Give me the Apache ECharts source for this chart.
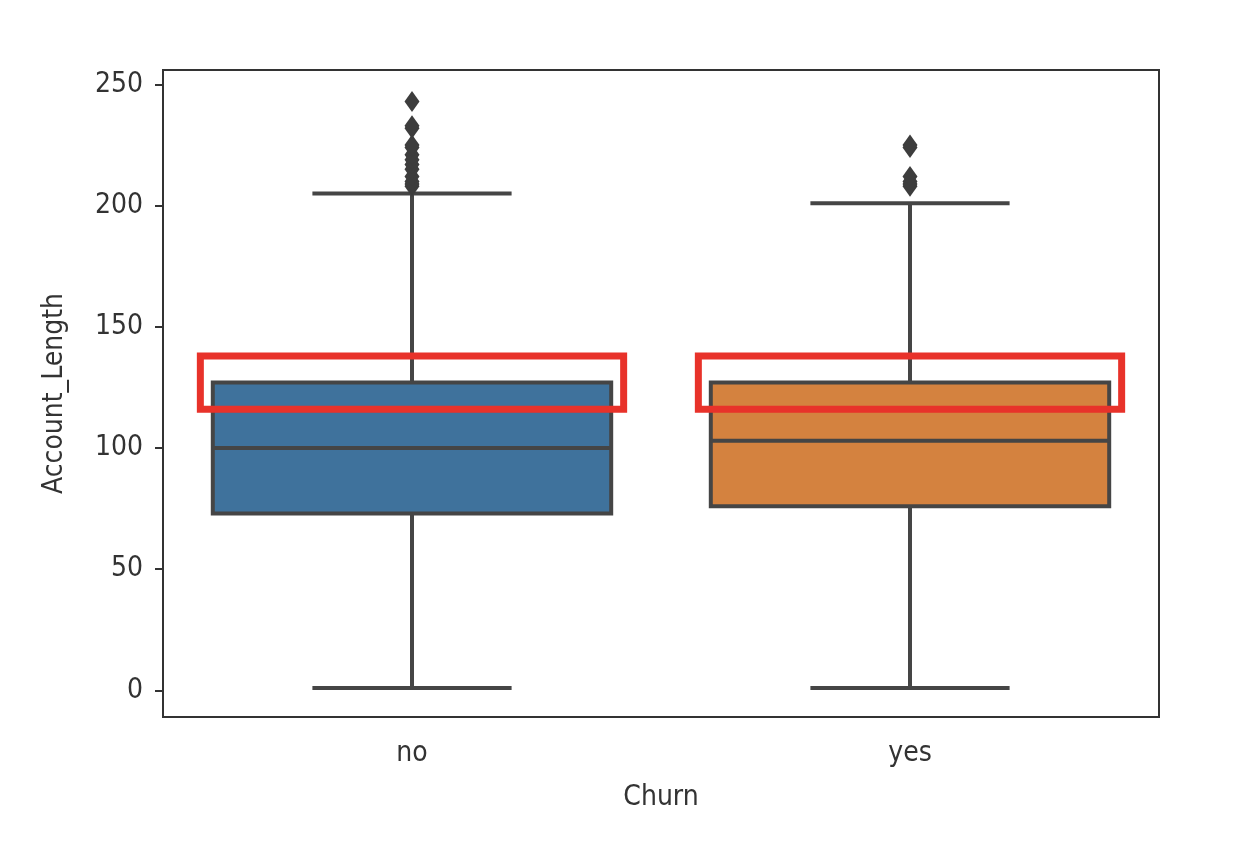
<!DOCTYPE html>
<html>
<head>
<meta charset="utf-8">
<script src="https://cdn.jsdelivr.net/npm/echarts@6/dist/echarts.min.js"></script>
<style>
    html, body { margin: 0; padding: 0; background: #fff; }
    #chart_box { width: 1254px; height: 864px; }
</style>
</head>
<body>
<div id="chart_box"></div>
<script>
// 数据
var categories = ['no', 'yes'];
var lowerWhisker = [1, 1];
var q1 = [73, 76];
var median = [100, 103];
var q3 = [127, 127];
var upperWhisker = [205, 201];
var outliersNo = [208, 209, 210, 212, 215, 217, 219, 221, 224, 225, 232, 233, 243];
var outliersYes = [208, 209, 210, 212, 224, 225];
var yTicks = [0, 50, 100, 150, 200, 250];
// 红框标注的范围 (Q3 附近)
var highlightLow = [116, 116];
var highlightHigh = [138, 138];

(function() {
    var boxColors = ['#3f729c', '#d4823f'];
    var lineColor = '#454545';
    var font = 'DejaVu Sans Condensed';

    var boxData = [];
    var markData = [];
    var outlierData = [];
    for (var i = 0; i < categories.length; i++) {
        boxData.push([i, lowerWhisker[i], q1[i], median[i], q3[i], upperWhisker[i]]);
        markData.push([i, highlightLow[i], highlightHigh[i]]);
    }
    for (var j = 0; j < outliersNo.length; j++) outlierData.push([0, outliersNo[j]]);
    for (var k = 0; k < outliersYes.length; k++) outlierData.push([1, outliersYes[k]]);

    function renderBox(params, api) {
        var idx = api.value(0);
        var band = api.size([1, 0])[0];
        var boxW = band * 0.8;
        var capW = boxW / 2;
        var pLow = api.coord([idx, api.value(1)]);
        var pQ1 = api.coord([idx, api.value(2)]);
        var pMed = api.coord([idx, api.value(3)]);
        var pQ3 = api.coord([idx, api.value(4)]);
        var pHigh = api.coord([idx, api.value(5)]);
        var cx = pMed[0];
        var ls = { stroke: lineColor, lineWidth: 4 };
        return {
            type: 'group',
            children: [
                { type: 'line', shape: { x1: cx, y1: pQ1[1], x2: cx, y2: pLow[1] }, style: ls },
                { type: 'line', shape: { x1: cx, y1: pQ3[1], x2: cx, y2: pHigh[1] }, style: ls },
                { type: 'line', shape: { x1: cx - capW / 2, y1: pLow[1], x2: cx + capW / 2, y2: pLow[1] }, style: ls },
                { type: 'line', shape: { x1: cx - capW / 2, y1: pHigh[1], x2: cx + capW / 2, y2: pHigh[1] }, style: ls },
                { type: 'rect', shape: { x: cx - boxW / 2, y: pQ3[1], width: boxW, height: pQ1[1] - pQ3[1] },
                  style: { fill: boxColors[idx], stroke: lineColor, lineWidth: 4 } },
                { type: 'line', shape: { x1: cx - boxW / 2, y1: pMed[1], x2: cx + boxW / 2, y2: pMed[1] }, style: ls }
            ]
        };
    }

    function renderMark(params, api) {
        var idx = api.value(0);
        var band = api.size([1, 0])[0];
        var w = band * 0.85;
        var pLo = api.coord([idx, api.value(1)]);
        var pHi = api.coord([idx, api.value(2)]);
        return {
            type: 'rect',
            shape: { x: pLo[0] - w / 2, y: pHi[1], width: w, height: pLo[1] - pHi[1] },
            style: { fill: 'none', stroke: '#e8322a', lineWidth: 7 }
        };
    }

    var myChart = echarts.init(document.getElementById('chart_box'));
    myChart.setOption({
        backgroundColor: '#fff',
        animation: false,
        grid: {
            left: 163,
            right: 95,
            top: 70,
            bottom: 147,
            show: true,
            borderColor: '#333',
            borderWidth: 2
        },
        xAxis: {
            type: 'category',
            data: categories,
            name: 'Churn',
            nameLocation: 'middle',
            nameGap: 67,
            nameTextStyle: { fontFamily: font, fontSize: 28, color: '#333' },
            axisLine: { onZero: false, lineStyle: { color: '#333', width: 2 } },
            axisTick: { alignWithLabel: true, length: 8, lineStyle: { color: '#333', width: 2 } },
            axisLabel: { fontFamily: font, fontSize: 28, color: '#333', margin: 23 },
            splitLine: { show: false }
        },
        yAxis: {
            type: 'value',
            min: -11,
            max: 256,
            name: 'Account_Length',
            nameLocation: 'middle',
            nameGap: 94,
            nameTextStyle: { fontFamily: font, fontSize: 28, color: '#333' },
            axisLine: { show: true, onZero: false, lineStyle: { color: '#333', width: 2 } },
            axisTick: { show: true, length: 8, customValues: yTicks, lineStyle: { color: '#333', width: 2 } },
            axisLabel: { fontFamily: font, fontSize: 28, color: '#333', margin: 20, customValues: yTicks },
            splitLine: { show: false }
        },
        series: [{
            type: 'custom',
            renderItem: renderBox,
            encode: { x: 0, y: [1, 2, 3, 4, 5] },
            data: boxData,
            z: 2
        }, {
            type: 'scatter',
            data: outlierData,
            symbol: 'diamond',
            symbolSize: [15, 21],
            itemStyle: { color: '#3d3d3d', opacity: 1 },
            z: 3
        }, {
            type: 'custom',
            renderItem: renderMark,
            encode: { x: 0, y: [1, 2] },
            data: markData,
            clip: false,
            z: 5
        }]
    });
})();
</script>
</body>
</html>
